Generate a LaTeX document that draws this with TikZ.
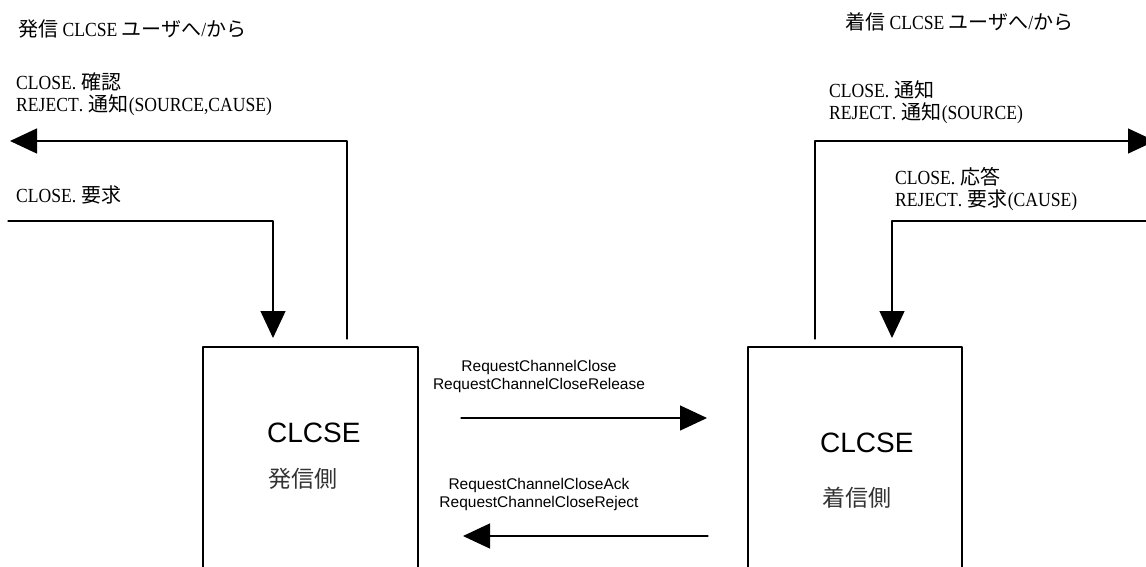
\documentclass[tikz,border=0pt]{standalone}
\usepackage{fontspec}
\newfontfamily\minfont[FakeStretch=0.88]{Liberation Serif}
\newfontfamily\jafont{Noto Sans CJK JP}
\newfontfamily\arialfont{Liberation Sans}
\newcommand{\jtxt}[1]{{\jafont #1}}
% half-width full stop
\newcommand{\hwdot}{\makebox[0.5em][l]{.}}
\usetikzlibrary{arrows.meta}

\begin{document}
\begin{tikzpicture}
			[line cap=round,line join=round,>={Triangle[length=27pt,width=25pt]},x=1pt,y=1pt,
			clbox/.style={draw,line width=1.3pt,rectangle,anchor=north west,outer sep=0pt,minimum height=240pt},
			sig/.style={->,line width=1.3pt},
			prim/.style={inner sep=0pt,anchor=west,align=left,font={\minfont\fontsize{20}{21.5}\selectfont}},
			msg/.style={inner sep=0pt,align=center,font={\arialfont\fontsize{15.5}{18}\selectfont}},
			entname/.style={inner sep=0pt,anchor=west,font={\arialfont\fontsize{28}{30}\selectfont}},
			entside/.style={inner sep=0pt,anchor=west,text=black!80,font={\jafont\fontsize{23}{25}\selectfont}}]
			\useasboundingbox (0,0) rectangle (1146,-566);
			\clip (0,0) rectangle (1146,-566);
			% the two CLCSE boxes, open at the bottom edge
			\node[clbox,minimum width=215pt] (orig) at (203,-347) {};
			\node[clbox,minimum width=214pt] (term) at (748,-347) {};
			\node[entname] (orig-nm) at (267,-432.5) {CLCSE};
			\node[entside] (orig-sd) at (268,-479) {発信側};
			\node[entname] (term-nm) at (820,-442.5) {CLCSE};
			\node[entside] (term-sd) at (822,-498) {着信側};
			% user side primitives
			\node[prim] (o-title) at (18,-29) {\jtxt{発信} CLCSE \jtxt{ユーザへ}/\jtxt{から}};
			\node[prim] (t-title) at (845,-22) {\jtxt{着信} CLCSE \jtxt{ユーザへ}/\jtxt{から}};
			\node[prim] (o-cnf-lbl) at (16,-94) {CLOSE\hwdot\jtxt{確認}\\REJECT\hwdot\jtxt{通知}(SOURCE,CAUSE)};
			\node[prim] (o-req-lbl) at (16,-195) {CLOSE\hwdot\jtxt{要求}};
			\node[prim] (t-ind-lbl) at (829,-102) {CLOSE\hwdot\jtxt{通知}\\REJECT\hwdot\jtxt{通知}(SOURCE)};
			\node[prim] (t-rsp-lbl) at (895,-189) {CLOSE\hwdot\jtxt{応答}\\REJECT\hwdot\jtxt{要求}(CAUSE)};
			\coordinate (o-req) at (8,-221);
			\coordinate (o-cnf) at (10,-141);
			\coordinate (t-ind) at (1155,-141);
			\coordinate (t-rsp) at (1146,-221);
			\draw[sig] (o-req) -| ([shift={(-37.5,9)}]orig.north);
			\draw[sig] ([shift={(36.5,8)}]orig.north) |- (o-cnf);
			\draw[sig] ([shift={(-40,8)}]term.north) |- (t-ind);
			\draw[sig] (t-rsp) -| ([shift={(37,9)}]term.north);
			% peer messages
			\node[msg] (fwd-lbl) at (539,-376.5) {RequestChannelClose\\RequestChannelCloseRelease};
			\node[msg] (bwd-lbl) at (539,-494.5) {RequestChannelCloseAck\\RequestChannelCloseReject};
			\draw[sig] ([shift={(43,-71)}]orig.north east) -- ([shift={(-41,-71)}]term.north west);
			\draw[sig] ([shift={(-40,-189)}]term.north west) -- ([shift={(45,-189)}]orig.north east);
		\end{tikzpicture}
\end{document}
